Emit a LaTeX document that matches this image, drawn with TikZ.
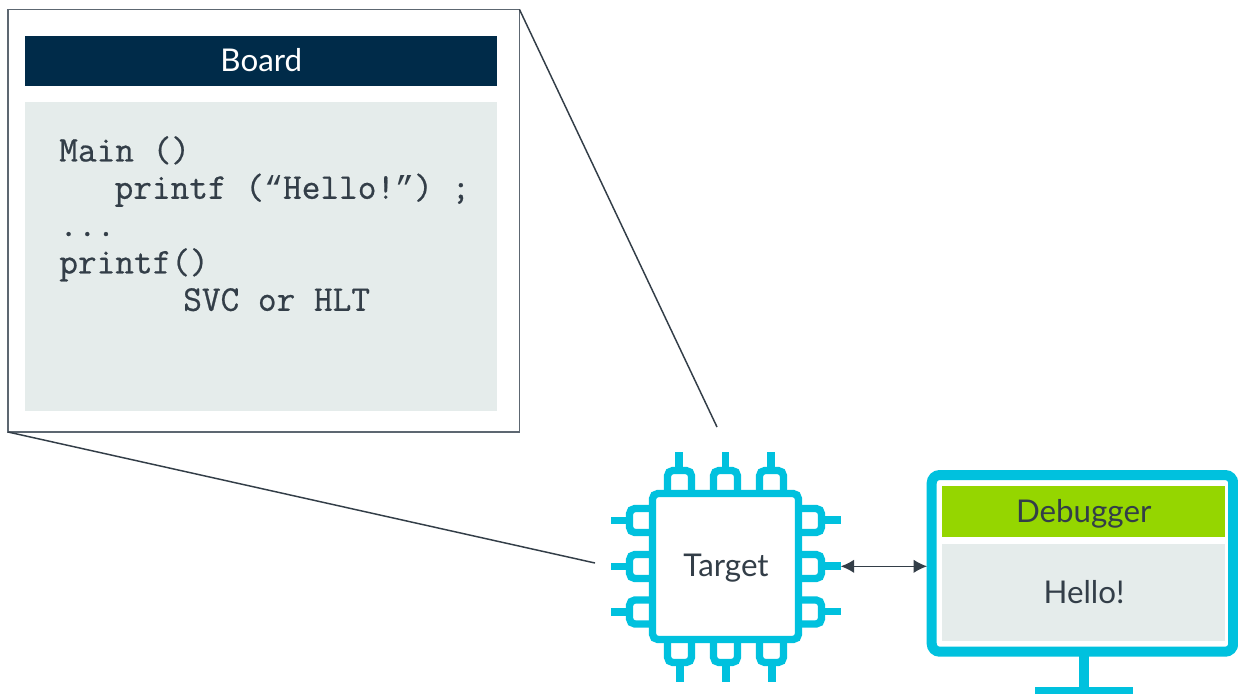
\documentclass[tikz,border=0pt]{standalone}
\usepackage{fontspec}
\setmainfont{Lato}
\setmonofont[RawFeature={embolden=0.6}]{Latin Modern Mono}
\newfontfamily\quotefont{Liberation Mono}
\usetikzlibrary{arrows.meta}
\definecolor{ink}{HTML}{333E48}
\definecolor{frameline}{HTML}{5D6771}
\definecolor{navy}{HTML}{002B49}
\definecolor{panel}{HTML}{E5ECEB}
\definecolor{cyanline}{HTML}{00C1DE}
\definecolor{lime}{HTML}{95D600}
\newcommand{\qmark}[1]{{\quotefont\fontsize{23.8}{28}\selectfont #1}}
\tikzset{
  panelbox/.style={inner sep=0pt,outer sep=0pt,draw=none,anchor=north west},
  label/.style={font=\fontsize{23.5}{28}\selectfont,text=ink,inner sep=0pt},
  zoomline/.style={draw=ink,line width=1.1pt},
  pin/.style={draw=cyanline,line width=5.5pt,rounded corners=4pt,fill=white},
  stub/.style={draw=cyanline,line width=5.5pt},
  link/.style={draw=ink,line width=1pt,{Latex[length=10pt,width=10pt]}-{Latex[length=10pt,width=10pt]}}
}
\begin{document}
\begin{tikzpicture}[x=0.75pt,y=-0.75pt]
\useasboundingbox (0,0) rectangle (1238,694);
\fill[white] (0,0) rectangle (1238,694);
% free ends of the zoom lines
\coordinate (zoomA) at (717,427);
\coordinate (zoomB) at (595,563);
% board
\node[panelbox,draw=frameline,line width=1pt,fill=white,minimum width=511.5*0.75pt,minimum height=422.5*0.75pt] (board) at (8,9.5) {};
\node[panelbox,fill=navy,minimum width=472*0.75pt,minimum height=49.5*0.75pt] (boardhead) at (25.3,36) {};
\node[label,text=white] (boardtitle) at (261.3,60) {Board};
\node[panelbox,fill=panel,minimum width=472*0.75pt,minimum height=308.5*0.75pt] (code) at (25.3,102) {};
\node[anchor=north west,inner sep=0pt,text=ink,align=left,font=\ttfamily\fontsize{27.2}{28}\selectfont] (codetext) at (59,136) {Main ()\\
\hspace*{41.5pt}printf (\qmark{“}Hello!\qmark{”}) ;\\
...\\
printf()\\
\hspace*{93pt}SVC or HLT};
\draw[zoomline] (board.north east) -- (zoomA);
\draw[zoomline] (board.south west) -- (zoomB);
% chip pins
\foreach \x/\s in {679.5/679,725.5/725.5,771.5/771}{
  \draw[stub] (\s,452) -- (\s,470);
  \draw[pin] (\x-12,493) -- (\x-12,470.5) -- (\x+12,470.5) -- (\x+12,493);
}
\foreach \x/\s in {679.5/680,725.5/726,771.5/772}{
  \draw[stub] (\s,662) -- (\s,682);
  \draw[pin] (\x-12,640) -- (\x-12,662.5) -- (\x+12,662.5) -- (\x+12,640);
}
\foreach \y/\s in {520.5/520.7,566.5/566.7,612/612}{
  \draw[stub] (611,\s) -- (630,\s);
  \draw[pin] (653,\y-12) -- (629.5,\y-12) -- (629.5,\y+12) -- (653,\y+12);
  \draw[stub] (821,\s-.7) -- (840.7,\s-.7);
  \draw[pin] (798,\y-12) -- (821.5,\y-12) -- (821.5,\y+12) -- (798,\y+12);
}
\coordinate (pinend) at (840.7,566.3);
% chip
\node[panelbox,draw=cyanline,line width=5.5pt,fill=white,rounded corners=4pt,minimum width=146*0.75pt,minimum height=146*0.75pt] (chip) at (652.5,493.5) {};
\node[label] (target) at (726,568) {Target};
% monitor
\fill[cyanline] (1079.3,655) rectangle (1089,690);
\fill[cyanline] (1035.3,686.7) rectangle (1132.7,694);
\node[panelbox,draw=cyanline,line width=7.5pt,fill=white,rounded corners=6pt,minimum width=301.5*0.75pt,minimum height=176.7*0.75pt] (monitor) at (931.7,475) {};
\node[panelbox,fill=lime,minimum width=283.3*0.75pt,minimum height=51.6*0.75pt] (dbghead) at (942,485.7) {};
\node[label] (dbgtitle) at (1083.7,514) {Debugger};
\node[panelbox,fill=panel,minimum width=283.3*0.75pt,minimum height=96.7*0.75pt] (dbgbody) at (942,544) {};
\node[label] (hello) at (1084,592) {Hello!};
\coordinate (monport) at (927,566.3);
\draw[link] (pinend) -- (monport);
\end{tikzpicture}
\end{document}
